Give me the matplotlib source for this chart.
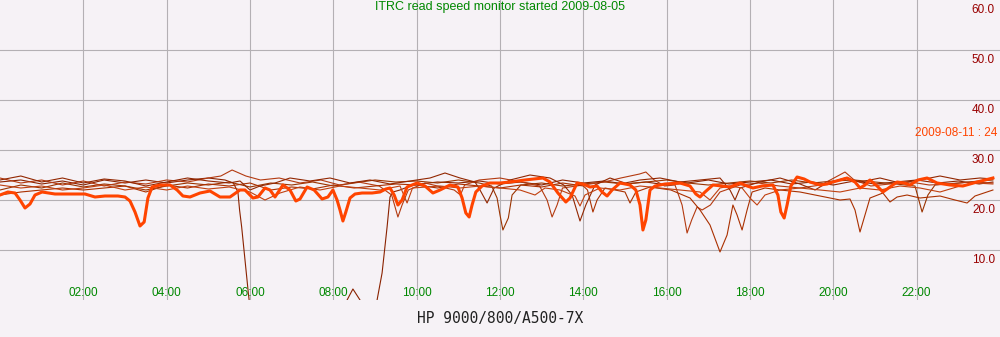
"""
ITRC read speed monitor - daily overlay of read speed per hour of day.
"""

import matplotlib
matplotlib.use("Agg")
import matplotlib.pyplot as plt

# ---------------- data ----------------

title = "ITRC read speed monitor started 2009-08-05"
host = "HP 9000/800/A500-7X"
latest_label = "2009-08-11 : 24"

hour_ticks = [2, 4, 6, 8, 10, 12, 14, 16, 18, 20, 22]
hour_labels = ["02:00", "04:00", "06:00", "08:00", "10:00", "12:00",
               "14:00", "16:00", "18:00", "20:00", "22:00"]
speed_ticks = [10, 20, 30, 40, 50, 60]

d0805_t = [0, 0.5, 1, 1.5, 2, 2.5, 3, 3.5, 4, 4.5, 5, 5.4, 5.6, 5.71, 5.75, 5.80, 5.88,
           5.96, 6.02, 6.1, 8.2, 8.33, 8.47, 8.64, 8.72, 9.0, 9.05, 9.17, 9.29, 9.36,
           9.43, 9.6, 9.84, 10.08, 10.5, 11, 11.5, 12, 12.5, 13, 13.5, 14, 14.5, 15,
           15.5, 16, 16.5, 17, 17.5, 18, 18.5, 19, 19.5, 20, 20.5, 21, 21.5, 22, 22.5,
           23, 23.5, 23.83]
d0805_v = [23.6, 24.0, 23.2, 23.8, 23.0, 24.0, 23.4, 24.0, 23.4, 24.0, 24.4, 24.0, 23.4,
           21.6, 18.0, 14.6, 8.0, 1.4, -3.0, -6.0, -6.0, 0.0, 2.2, 0.0, -3.0, -6.0, 0.0,
           5.4, 14.6, 20.6, 21.6, 22.0, 22.8, 23.2, 23.6, 23.4, 23.8, 23.2, 23.6, 23.0,
           24.0, 23.4, 23.8, 23.2, 23.6, 23.0, 23.4, 24.0, 23.2, 23.6, 24.0, 23.2, 23.6,
           23.0, 23.8, 23.2, 23.6, 24.0, 23.4, 23.8, 23.2, 23.6]

d0806_t = [0, 0.5, 1, 1.5, 2, 2.5, 3, 3.5, 4, 4.5, 5, 5.5, 6, 6.5, 7, 7.5, 8, 8.5, 9,
           9.5, 10, 10.5, 11, 11.5, 11.8, 11.93, 12.0, 12.07, 12.2, 12.29, 12.5, 13,
           13.5, 14, 14.5, 15, 15.5, 16, 16.5, 17, 17.5, 18, 18.5, 19, 19.5, 20, 20.5,
           21, 21.5, 21.96, 22.13, 22.27, 22.44, 23, 23.5, 23.83]
d0806_v = [22.0, 23.0, 22.4, 23.4, 22.6, 23.2, 22.8, 22.0, 22.8, 23.4, 23.0, 23.6, 22.6,
           23.4, 23.0, 23.6, 22.8, 23.4, 24.0, 23.6, 23.8, 23.4, 24.0, 23.4, 22.8, 20.4,
           17.0, 14.0, 16.4, 21.0, 23.0, 23.4, 22.8, 23.2, 23.6, 23.2, 23.6, 24.0, 23.4,
           23.0, 23.4, 23.8, 23.4, 24.0, 23.4, 23.8, 24.0, 23.6, 23.2, 22.8, 17.6, 21.0,
           23.0, 23.4, 23.8, 24.0]

d0807_t = [0, 0.5, 1, 1.5, 2, 2.5, 3, 3.5, 4, 4.5, 5, 5.3, 5.57, 5.9, 6.25, 6.7, 7.2,
           7.7, 8.15, 8.6, 9.1, 9.4, 9.55, 9.65, 9.8, 10.2, 10.9, 11.05, 11.15, 11.5, 12,
           12.5, 12.95, 13.13, 13.25, 13.37, 13.5, 14, 14.5, 14.9, 15.35, 15.5, 15.7,
           15.95, 16.2, 16.37, 16.49, 16.6, 16.73, 16.85, 17.05, 17.28, 17.76, 18.2,
           18.7, 19.2, 19.7, 20.15, 20.28, 20.5, 20.9, 21.35, 21.85, 22.3, 22.8, 23.3,
           23.83]
d0807_v = [24.4, 23.4, 24.0, 23.0, 23.8, 22.8, 23.6, 23.2, 24.0, 23.6, 24.4, 24.8, 26.0,
           24.8, 24.0, 24.4, 23.4, 24.0, 23.0, 23.6, 22.8, 21.0, 16.6, 19.0, 22.0, 23.4,
           22.0, 21.0, 23.0, 24.0, 24.4, 23.6, 22.8, 20.0, 16.6, 19.0, 22.4, 23.0, 23.6,
           24.4, 25.2, 25.6, 24.0, 22.8, 23.0, 19.0, 13.4, 16.0, 18.6, 18.0, 19.0, 21.6,
           23.0, 23.4, 22.8, 22.4, 23.0, 25.0, 25.6, 24.0, 22.8, 23.2, 23.6, 23.0, 23.2,
           23.6, 23.4]

d0808_t = [0, 0.5, 1, 1.5, 2, 2.5, 3, 3.5, 4, 4.5, 5, 5.5, 6, 6.5, 7, 7.5, 8, 8.5, 9,
           9.5, 10, 10.5, 11, 11.5, 12, 12.5, 13, 13.5, 14, 14.1, 14.23, 14.33, 14.52,
           15.0, 15.12, 15.26, 15.6, 16.1, 16.56, 16.8, 17.04, 17.28, 17.45, 17.59,
           17.69, 17.81, 17.93, 18.05, 18.36, 18.72, 19.2, 19.68, 20.16, 20.4, 20.52,
           20.64, 20.76, 20.88, 21.19, 21.36, 21.53, 21.77, 22.08, 22.56, 22.92, 23.21,
           23.4, 23.83]
d0808_v = [21.0, 21.6, 22.0, 22.4, 22.0, 22.4, 22.8, 21.6, 23.0, 22.4, 23.2, 22.8, 23.4,
           22.0, 22.6, 22.2, 23.0, 22.4, 22.8, 23.2, 23.0, 22.4, 23.2, 22.8, 22.4, 23.0,
           22.6, 23.4, 22.8, 22.0, 17.6, 20.0, 22.4, 21.6, 19.4, 21.6, 22.6, 22.0, 20.4,
           18.0, 15.0, 9.6, 13.0, 19.0, 17.0, 14.0, 18.0, 21.6, 22.4, 22.0, 21.6, 20.8,
           20.0, 20.2, 18.0, 13.6, 17.0, 20.4, 21.4, 19.6, 20.6, 21.0, 20.4, 20.8, 20.0,
           19.4, 20.8, 22.0]

d0809_t = [0, 0.5, 1, 1.5, 2, 2.5, 3, 3.5, 4, 4.5, 5, 5.5, 5.76, 6.0, 6.24, 6.6, 6.96,
           7.44, 7.92, 8.4, 8.88, 9.36, 9.84, 10.32, 10.68, 11.04, 11.4, 11.52, 11.69,
           11.86, 12.24, 12.72, 13.2, 13.53, 13.73, 13.92, 14.06, 14.28, 14.64, 15.0,
           15.36, 15.84, 16.32, 16.8, 17.28, 17.52, 17.64, 17.76, 18.24, 18.72, 19.2,
           19.56, 19.8, 20.28, 20.64, 21.12, 21.6, 22.08, 22.56, 23.04, 23.52, 23.83]
d0809_v = [24.0, 24.8, 23.6, 24.4, 23.4, 24.2, 23.8, 22.8, 23.6, 24.4, 23.8, 23.4, 23.8,
           22.0, 22.8, 23.4, 24.4, 23.8, 24.4, 23.4, 24.0, 23.2, 23.8, 24.4, 25.4, 24.4,
           23.6, 22.0, 19.4, 22.4, 24.0, 25.0, 24.4, 23.0, 21.0, 15.8, 19.0, 23.0, 24.4,
           23.4, 24.0, 24.4, 23.6, 24.0, 24.4, 22.0, 20.0, 22.4, 23.6, 24.4, 23.2, 22.0,
           23.2, 24.4, 23.6, 24.4, 23.4, 24.0, 24.8, 24.0, 24.4, 24.2]

d0810_t = [0, 0.5, 1, 1.5, 2, 2.5, 3, 3.5, 4, 4.5, 5, 5.5, 6.0, 6.36, 6.72, 7.2, 7.68,
           8.16, 8.64, 9.12, 9.6, 9.77, 9.9, 10.56, 11.04, 11.52, 12.0, 12.48, 12.84,
           13.08, 13.44, 13.8, 13.92, 14.04, 14.4, 14.88, 15.36, 15.84, 16.32, 16.8,
           17.04, 17.28, 17.52, 17.81, 18.0, 18.17, 18.36, 18.72, 19.2, 19.68, 20.16,
           20.64, 21.12, 21.6, 22.08, 22.56, 23.04, 23.4, 23.83]
d0810_v = [23.0, 22.4, 22.8, 22.0, 22.4, 23.0, 22.0, 22.6, 22.0, 22.8, 22.2, 22.6, 21.6,
           20.0, 21.4, 22.6, 22.0, 22.8, 22.4, 22.0, 22.8, 19.4, 22.4, 22.8, 22.4, 22.8,
           22.4, 22.0, 21.0, 22.4, 22.0, 20.8, 18.8, 21.0, 22.4, 22.0, 22.8, 22.4, 22.0,
           21.6, 20.0, 22.4, 22.8, 22.4, 20.4, 19.0, 21.0, 22.0, 22.4, 22.0, 21.6, 22.4,
           22.0, 22.8, 22.4, 21.6, 22.8, 23.4, 23.2]

# latest day (drawn thick)
d0811_t = [0.00, 0.19, 0.36, 0.48, 0.60, 0.72, 0.84, 1.01, 1.32, 1.68, 2.04, 2.28, 2.52,
           2.83, 3.00, 3.12, 3.24, 3.36, 3.46, 3.55, 3.65, 3.84, 4.08, 4.25, 4.39, 4.56,
           4.80, 5.04, 5.28, 5.52, 5.76, 5.88, 6.07, 6.19, 6.36, 6.48, 6.60, 6.79, 6.96,
           7.10, 7.20, 7.37, 7.54, 7.73, 7.87, 7.99, 8.09, 8.16, 8.23, 8.30, 8.40, 8.52,
           8.69, 8.93, 9.12, 9.26, 9.36, 9.46, 9.55, 9.65, 9.77, 10.01, 10.20, 10.39,
           10.56, 10.80, 10.99, 11.09, 11.18, 11.26, 11.33, 11.42, 11.57, 11.76, 12.00,
           12.24, 12.60, 13.03, 13.20, 13.39, 13.58, 13.68, 13.85, 13.99, 14.16, 14.33,
           14.45, 14.57, 14.69, 14.88, 15.12, 15.26, 15.36, 15.43, 15.50, 15.60, 15.72,
           15.96, 16.32, 16.56, 16.70, 16.80, 16.92, 17.11, 17.33, 17.52, 17.76, 17.93,
           18.07, 18.29, 18.55, 18.67, 18.74, 18.82, 18.89, 18.98, 19.13, 19.30, 19.44,
           19.68, 19.85, 19.99, 20.16, 20.33, 20.52, 20.64, 20.76, 20.88, 21.05, 21.19,
           21.36, 21.53, 21.70, 21.84, 22.03, 22.25, 22.49, 22.80, 23.11, 23.28, 23.45,
           23.64, 23.83]
d0811_v = [21.0, 21.6, 21.4, 20.0, 18.4, 19.2, 21.0, 21.6, 21.2, 21.2, 21.2, 20.6, 20.8,
           20.8, 20.6, 19.8, 17.6, 14.8, 15.6, 20.4, 22.6, 23.0, 23.0, 22.0, 20.8, 20.6,
           21.4, 21.8, 20.6, 20.6, 22.0, 22.0, 20.4, 20.6, 22.4, 22.0, 20.6, 23.0, 22.0,
           19.8, 20.2, 22.6, 22.0, 20.2, 20.6, 22.0, 20.0, 18.0, 15.8, 17.6, 20.4, 21.2,
           21.4, 21.4, 21.6, 22.2, 22.4, 21.0, 19.0, 20.0, 22.6, 23.4, 22.8, 21.4, 22.0,
           23.0, 22.6, 20.4, 17.4, 16.6, 19.0, 21.6, 22.8, 23.4, 23.4, 23.6, 24.0, 24.4,
           23.6, 21.4, 19.6, 20.4, 23.4, 23.2, 22.6, 22.8, 21.6, 20.8, 22.0, 23.4, 23.0,
           22.0, 19.0, 14.0, 16.0, 22.0, 22.8, 23.2, 23.4, 22.8, 21.2, 20.6, 21.6, 23.0,
           22.8, 22.6, 23.4, 22.8, 22.4, 22.8, 23.0, 21.0, 17.6, 16.4, 19.0, 22.8, 24.6,
           24.2, 23.6, 23.0, 23.2, 23.6, 24.0, 24.4, 23.6, 22.4, 23.0, 24.0, 22.8, 21.6,
           22.6, 23.6, 23.4, 23.0, 24.0, 24.4, 23.4, 23.0, 22.8, 23.2, 23.6, 24.0, 24.4]

old_days = [(d0805_t, d0805_v), (d0806_t, d0806_v), (d0807_t, d0807_v),
            (d0808_t, d0808_v), (d0809_t, d0809_v), (d0810_t, d0810_v)]
old_colors = ["#8a2200", "#9a3300", "#b33a10", "#aa3000", "#922600", "#c04010"]

# ---------------- plot ----------------

BG = "#f6f2f6"
GRID = "#b4b0b4"
FONT = "Liberation Sans"

fig = plt.figure(figsize=(10, 3.37), dpi=100, facecolor=BG)
ax = fig.add_axes([0, 37 / 337, 1, 300 / 337])
ax.set_facecolor(BG)
ax.set_xlim(0, 24)
ax.set_ylim(0, 60)
for s in ax.spines.values():
    s.set_visible(False)
ax.set_xticks([]); ax.set_yticks([])

for h in hour_ticks:
    ax.axvline(h, color=GRID, lw=0.8, zorder=1)
for v in speed_ticks[:-1]:
    ax.axhline(v, color=GRID, lw=0.8, zorder=1)

for (t, v), c in zip(old_days, old_colors):
    ax.plot(t, v, color=c, lw=0.8, zorder=3)
ax.plot(d0811_t, d0811_v, color="#ff4400", lw=2.2, zorder=4)

for h, lab in zip(hour_ticks, hour_labels):
    ax.text(h, 1.4, lab, ha="center", va="center", color="#008800",
            fontsize=8.5, family=FONT, zorder=5)
for v in speed_ticks:
    ax.text(23.88, v - 2, f"{v:.1f}", ha="right", va="center", color="#990000",
            fontsize=8.5, family=FONT, zorder=5)

ax.text(12, 58.6, title, ha="center", va="center", color="#008800",
        fontsize=9, family=FONT, zorder=5)
# label runs off the right edge in the original too
ax.text(21.96, 33.4, latest_label, ha="left", va="center", color="#ff4400",
        fontsize=8.5, family=FONT, zorder=5, clip_on=False)

fig.text(0.5, 1 - 318 / 337, host, ha="center", va="center", color="#222222",
         fontsize=10.5, family="DejaVu Sans Mono")

fig.savefig("out.png", dpi=100, facecolor=BG)
